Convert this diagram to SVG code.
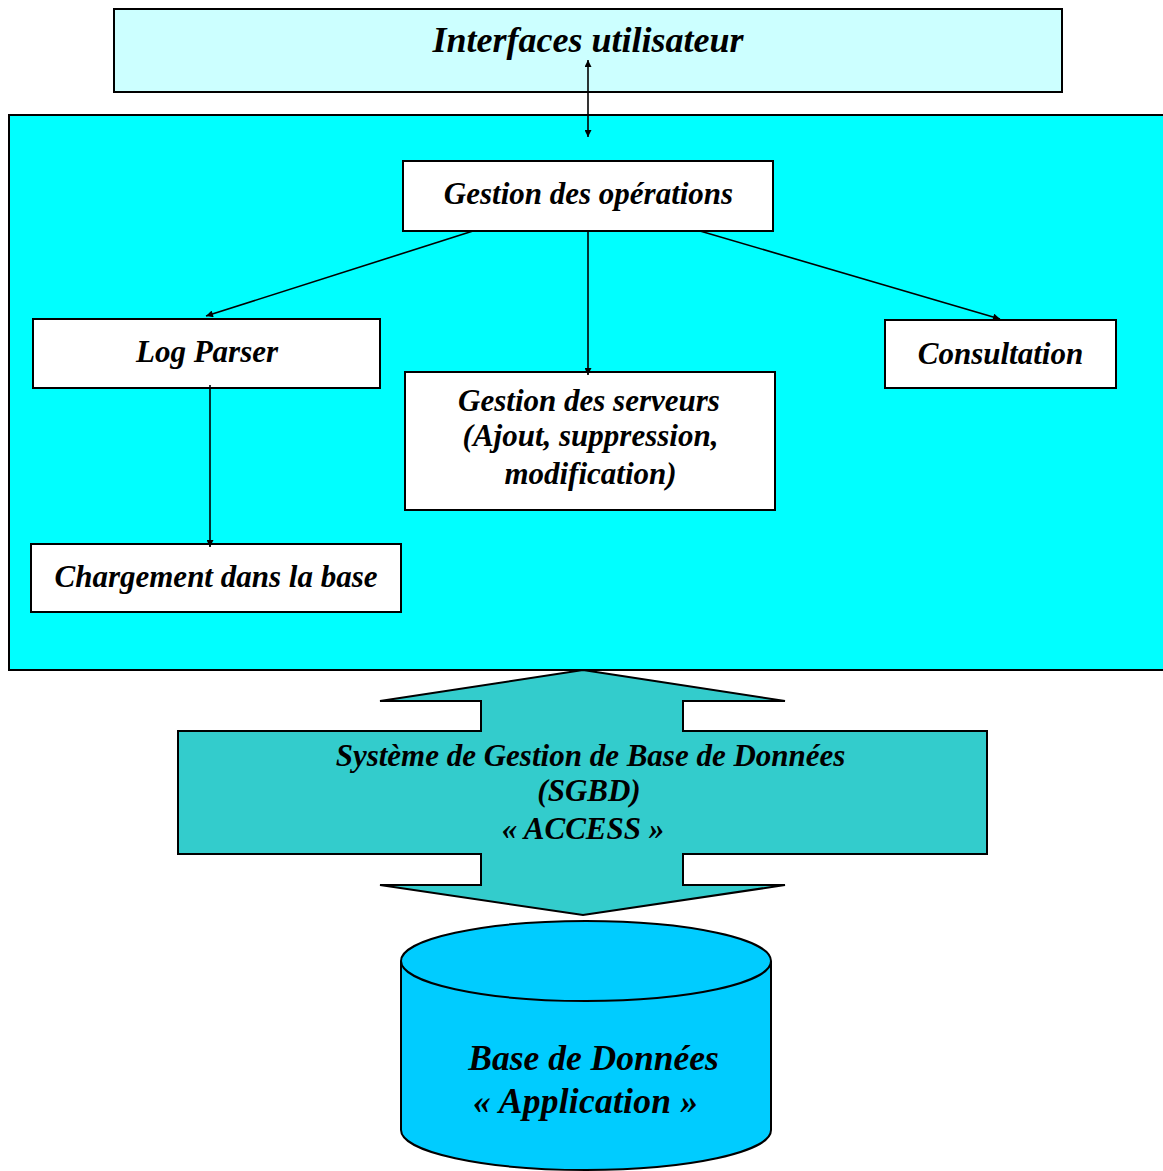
<svg xmlns="http://www.w3.org/2000/svg" width="1163" height="1171" viewBox="0 0 1163 1171">
<defs>
<marker id="ah" viewBox="0 0 10 10" refX="10" refY="5" markerWidth="8" markerHeight="7" markerUnits="userSpaceOnUse" orient="auto-start-reverse">
<path d="M0,0 L10,5 L0,10 z" fill="#000"/>
</marker>
<style>
text{font-family:'Liberation Serif','Times New Roman',serif;font-weight:700;font-style:italic;fill:#000;text-anchor:middle}
.box{fill:#fff;stroke:#000;stroke-width:2}
.conn{stroke:#000;stroke-width:1.6;fill:none;marker-end:url(#ah)}
</style>
</defs>
<rect width="1163" height="1171" fill="#fff"/>
<g id="interfaces">
<rect x="114" y="9" width="948" height="83" fill="#CCFFFF" stroke="#000" stroke-width="2"/>
<text x="588" y="52" font-size="36">Interfaces utilisateur</text>
</g>
<g id="container">
<rect x="9" y="115" width="1160" height="555" fill="#00FFFF" stroke="#000" stroke-width="2"/>
</g>
<g id="gestion-operations">
<rect class="box" x="403" y="161" width="370" height="70"/>
<text x="588.5" y="204" font-size="31">Gestion des opérations</text>
</g>
<g id="log-parser">
<rect class="box" x="33" y="319" width="347" height="69"/>
<text x="207" y="362" font-size="31">Log Parser</text>
</g>
<g id="consultation">
<rect class="box" x="885" y="320" width="231" height="68"/>
<text x="1000.5" y="364" font-size="31">Consultation</text>
</g>
<g id="gestion-serveurs">
<rect class="box" x="405" y="372" width="370" height="138"/>
<text x="589" y="411" font-size="31">Gestion des serveurs</text>
<text x="590.5" y="446" font-size="31">(Ajout, suppression,</text>
<text x="590.5" y="484" font-size="31">modification)</text>
</g>
<g id="chargement">
<rect class="box" x="31" y="544" width="370" height="68"/>
<text x="216" y="587" font-size="31">Chargement dans la base</text>
</g>
<g id="connectors">
<line x1="588" y1="60" x2="588" y2="137" stroke="#000" stroke-width="1.6" marker-start="url(#ah)" marker-end="url(#ah)"/>
<line class="conn" x1="473" y1="231" x2="206" y2="316"/>
<line class="conn" x1="588" y1="231" x2="588" y2="375"/>
<line class="conn" x1="700" y1="231" x2="1000" y2="319"/>
<line class="conn" x1="210" y1="385" x2="210" y2="547"/>
</g>
<g id="sgbd">
<polygon points="583,670 785,701 683,701 683,731 987,731 987,854 683,854 683,885 785,885 583,915 380,885 481,885 481,854 178,854 178,731 481,731 481,701 380,701" fill="#33CCCC" stroke="#000" stroke-width="2" stroke-linejoin="miter"/>
<text x="590.5" y="766" font-size="31">Système de Gestion de Base de Données</text>
<text x="589" y="801" font-size="31">(SGBD)</text>
<text x="583" y="839" font-size="31">« ACCESS »</text>
</g>
<g id="base-donnees">
<path d="M401,961 L401,1130 A185,40 0 0 0 771,1130 L771,961" fill="#00CCFF" stroke="#000" stroke-width="2"/>
<ellipse cx="586" cy="961" rx="185" ry="40" fill="#00CCFF" stroke="#000" stroke-width="2"/>
<text x="593.5" y="1070" font-size="35.5">Base de Données</text>
<text x="585.5" y="1113" font-size="35.5" textLength="225" lengthAdjust="spacing">« Application »</text>
</g>
</svg>
